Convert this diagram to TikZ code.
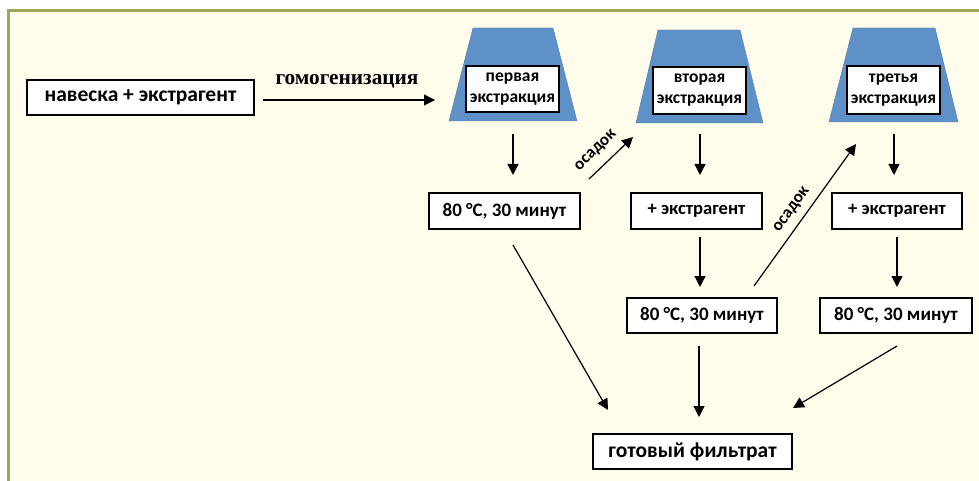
\documentclass[tikz,border=0pt]{standalone}
\usepackage{fontspec}
\setmainfont{Carlito}
\newfontfamily\serifb{Liberation Serif}
\usetikzlibrary{arrows.meta}
\definecolor{bgcream}{RGB}{255,252,236}
\definecolor{frameol}{RGB}{159,165,90}
\definecolor{trapblue}{RGB}{94,145,200}
\tikzset{
  box/.style={draw=black, line width=1.3pt, fill=white, rectangle, inner sep=0pt, align=center, font=\bfseries\fontsize{19}{22}\selectfont},
  inbox/.style={draw=black, line width=1.3pt, fill=white, rectangle, inner sep=0pt, align=center, font=\bfseries\fontsize{17.5}{21}\selectfont},
  trap/.style={fill=trapblue, draw=trapblue!85!black, line width=0.4pt},
  arr/.style={-{Triangle[length=11pt,width=11pt]}, line width=1.2pt, black},
  lbl/.style={font=\bfseries\fontsize{17}{19}\selectfont, inner sep=0pt}
}
\begin{document}
\begin{tikzpicture}[x=1pt,y=-1pt]
\useasboundingbox (0,0) rectangle (979,481);
\clip (0,0) rectangle (979,481);
\fill[white] (0,0) rectangle (979,481);
\fill[bgcream] (8.3,10.3) rectangle (995,495);
\draw[frameol, line width=2.6pt] (8.3,495) -- (8.3,10.3) -- (995,10.3);

% trapezoids
\path[trap] (473,28) -- (553,28) -- (577,121) -- (449,121) -- cycle;
\path[trap] (658,30) -- (740,30) -- (763,123) -- (636,123) -- cycle;
\path[trap] (853,28) -- (935,28) -- (958,122) -- (829,122) -- cycle;

% nodes
\node[box, minimum width=227pt, minimum height=35pt, font=\bfseries\fontsize{21.5}{24}\selectfont] (start) at (140.5,97.5) {навеска + экстрагент};
\node[inbox, minimum width=93pt, minimum height=46pt] (ex1) at (512.5,89) {первая\\экстракция};
\node[inbox, minimum width=93pt, minimum height=47pt] (ex2) at (699.5,90.5) {вторая\\экстракция};
\node[inbox, minimum width=93pt, minimum height=48pt] (ex3) at (893.5,90) {третья\\экстракция};
\node[box, minimum width=151pt, minimum height=36pt] (h1) at (504.5,211) {80 °C, 30 минут};
\node[box, minimum width=131pt, minimum height=36pt, font=\bfseries\fontsize{18.6}{22}\selectfont] (e2) at (696.5,211) {+ экстрагент};
\node[box, minimum width=130pt, minimum height=36pt, font=\bfseries\fontsize{18.6}{22}\selectfont] (e3) at (897,211) {+ экстрагент};
\node[box, minimum width=150pt, minimum height=35pt] (h2) at (702,315.5) {80 °C, 30 минут};
\node[box, minimum width=152pt, minimum height=35pt] (h3) at (896,315.5) {80 °C, 30 минут};
\node[box, minimum width=199pt, minimum height=35pt, font=\bfseries\fontsize{21.5}{24}\selectfont] (fil) at (692.5,451.5) {готовый фильтрат};

% connector end points
\coordinate (g0) at (263,100); \coordinate (g1) at (435,100);
\coordinate (a1s) at (513,134); \coordinate (a1e) at (513,175);
\coordinate (a2s) at (700,134); \coordinate (a2e) at (700,175);
\coordinate (a3s) at (894,134); \coordinate (a3e) at (894,175);
\coordinate (o1s) at (589,179); \coordinate (o1e) at (633,137);
\coordinate (o2s) at (754,286); \coordinate (o2e) at (856,144);
\coordinate (b2s) at (700,237); \coordinate (b2e) at (700,287);
\coordinate (b3s) at (897,237); \coordinate (b3e) at (897,287);
\coordinate (f1s) at (513,245); \coordinate (f1e) at (608,410);
\coordinate (f2s) at (699,346); \coordinate (f2e) at (699,417);
\coordinate (f3s) at (897,346); \coordinate (f3e) at (793,408);

\draw[arr] (g0) -- (g1);
\node[font=\serifb\bfseries\fontsize{21.3}{24}\selectfont, inner sep=0pt] (hom) at (347,81) {гомогенизация};
\draw[arr] (a1s) -- (a1e);
\draw[arr] (a2s) -- (a2e);
\draw[arr] (a3s) -- (a3e);
\draw[arr] (o1s) -- (o1e);
\node[lbl, rotate=44] (os1) at (596,151) {осадок};
\draw[arr] (o2s) -- (o2e);
\node[lbl, rotate=54.5] (os2) at (792,210) {осадок};
\draw[arr] (b2s) -- (b2e);
\draw[arr] (b3s) -- (b3e);
\draw[arr] (f1s) -- (f1e);
\draw[arr] (f2s) -- (f2e);
\draw[arr] (f3s) -- (f3e);
\end{tikzpicture}
\end{document}
